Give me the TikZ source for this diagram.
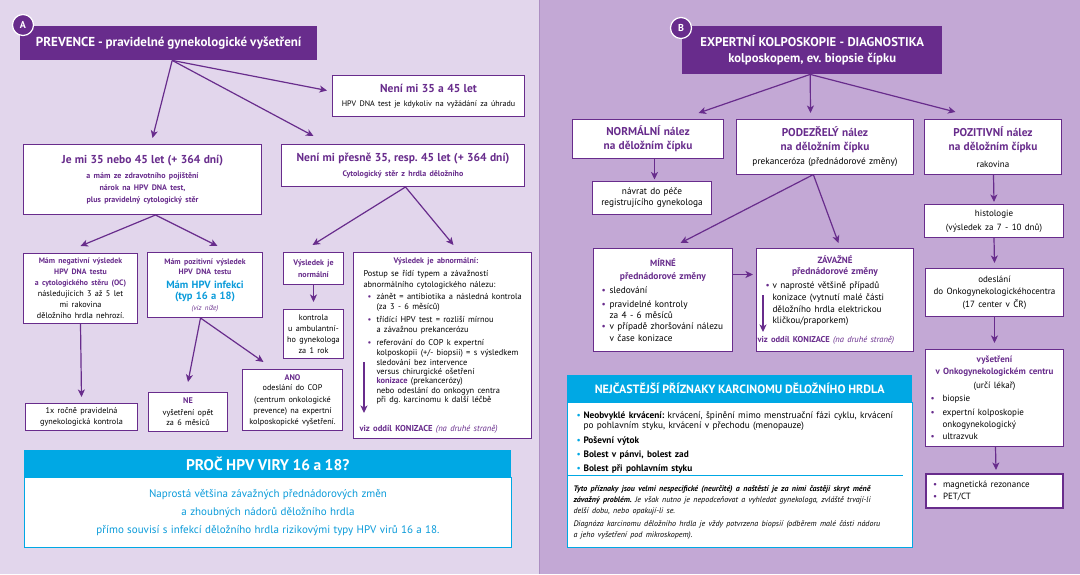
\documentclass[tikz,border=0pt]{standalone}
\usepackage{fontspec}
\setmainfont{PT Sans}[WordSpace=0.88]
\usetikzlibrary{arrows.meta}
\definecolor{pu}{RGB}{104,44,140}
\definecolor{cy}{RGB}{0,168,228}
\definecolor{cyt}{RGB}{10,155,218}
\definecolor{bgL}{RGB}{226,214,236}
\definecolor{bgR}{RGB}{195,168,213}
\definecolor{sepc}{RGB}{172,142,194}
\setlength\parindent{0pt}
\setlength\parskip{0pt}
\frenchspacing
\newcommand\Ln[3]{{\fontsize{#1}{#2}\selectfont\mbox{#3}\par}}
\newcommand\Bu[3]{\hspace*{#1pt}\makebox[#2pt][l]{\textcolor{#3}{•}}}
\newcommand\Ind[1]{\hspace*{#1pt}}
\newcommand\PB{\bfseries\color{pu}}
\begin{document}
\begin{tikzpicture}[x=1pt,y=-1pt,
  box/.style={draw=pu, line width=1pt, fill=white, anchor=north west, inner sep=0pt, align=center},
  lbox/.style={box, align=left},
  hdr/.style={fill=pu, anchor=north west, inner sep=0pt, text=white, align=center},
  cyhdr/.style={fill=cy, anchor=north west, inner sep=0pt, text=white, align=center},
  badge/.style={circle, fill=pu, draw=white, line width=1.2pt, minimum size=21pt, inner sep=0pt, text=white, font=\bfseries\fontsize{10}{12}\selectfont},
  arr/.style={draw=pu, line width=1.2pt, -{Stealth[length=7.5pt,width=7pt,inset=2pt]}}
]
\useasboundingbox (0,0) rectangle (1080,574);
\fill[bgL] (0,0) rectangle (539,574);
\fill[bgR] (539,0) rectangle (1080,574);
\draw[sepc, line width=1pt] (539,0) -- (539,574);

% ---------------- Panel A ----------------
\node[hdr, minimum width=297pt, minimum height=34pt, font=\bfseries\fontsize{13}{15}\selectfont] (hA) at (20,26) {PREVENCE - pravidelné gynekologické vyšetření};
\node[badge] (cA) at (23,25) {A};

\node[box, minimum width=192pt, minimum height=41pt, text width=184pt] (n35) at (332,75) {%
\Ln{11.5}{13}{\PB Není mi 35 a 45 let}
\Ln{8}{13.5}{HPV DNA test je kdykoliv na vyžádání za úhradu}};

\node[box, minimum width=238pt, minimum height=70pt, text width=230pt] (je) at (23,144) {%
\Ln{11.5}{13}{\PB Je mi 35 nebo 45 let (+ 364 dní)}
\Ln{8}{15}{\PB a mám ze zdravotního pojištění}
\Ln{8}{11.5}{\PB nárok na HPV DNA test,}
\Ln{8}{12}{\PB plus pravidelný cytologický stěr}};

\node[box, minimum width=243pt, minimum height=42pt, text width=235pt] (np) at (281,144) {%
\Ln{11.5}{13}{\PB Není mi přesně 35, resp. 45 let (+ 364 dní)}
\Ln{8}{15}{\PB Cytologický stěr z hrdla děložního}};

\node[box, minimum width=114pt, minimum height=70pt, text width=108pt] (neg) at (23,253) {%
\Ln{7.8}{10}{\PB Mám negativní výsledek}
\Ln{7.8}{10.5}{\PB HPV DNA testu}
\Ln{7.8}{11}{\PB a cytologického stěru (OC)}
\Ln{8.2}{11}{následujících 3 až 5 let}
\Ln{8.2}{11}{mi rakovina}
\Ln{8.2}{11.5}{děložního hrdla nehrozí.}};

\node[box, minimum width=115pt, minimum height=65pt, text width=109pt] (pos) at (147,252) {%
\Ln{7.8}{10}{\PB Mám pozitivní výsledek}
\Ln{7.8}{10}{\PB HPV DNA testu}
\Ln{10.5}{14}{\bfseries\color{cyt}Mám HPV infekci}
\Ln{10.5}{11}{\bfseries\color{cyt}(typ 16 a 18)}
\Ln{7}{11}{\itshape\color{pu}(viz níže)}};

\node[box, minimum width=112pt, minimum height=27pt, text width=106pt] (onex) at (25,403) {%
\Ln{8.2}{11}{1x ročně pravidelná}
\Ln{8.2}{11}{gynekologická kontrola}};

\node[box, minimum width=79pt, minimum height=39pt, text width=73pt] (ne) at (148,392) {%
\Ln{8.2}{10}{\PB NE}
\Ln{8.2}{12}{vyšetření opět}
\Ln{8.2}{10}{za 6 měsíců}};

\node[box, minimum width=100pt, minimum height=61pt, text width=94pt] (ano) at (242,369) {%
\Ln{8.2}{10}{\PB ANO}
\Ln{8.2}{10.5}{odeslání do COP}
\Ln{8.2}{11.5}{(centrum onkologické}
\Ln{8.2}{11}{prevence) na expertní}
\Ln{8.2}{11}{kolposkopické vyšetření.}};

\node[box, minimum width=60pt, minimum height=32pt, text width=56pt] (nrm) at (283,252) {%
\Ln{8}{10}{\PB Výsledek je}
\Ln{8}{12.5}{\PB normální}};

\node[box, minimum width=60pt, minimum height=49pt, text width=56pt] (kon) at (283,309) {%
\Ln{8.2}{11}{kontrola}
\Ln{8.2}{11}{u ambulantní-}
\Ln{8.2}{11}{ho gynekologa}
\Ln{8.2}{10.5}{za 1 rok}};

\node[lbox, minimum width=178pt, minimum height=186pt, text width=158pt] (abn) at (353,252) {%
\Ln{8}{10}{\Ind{30}\PB Výsledek je abnormální:}
\Ln{8.4}{13}{Postup se řídí typem a závažností}
\Ln{8.4}{11}{abnormálního cytologického nálezu:}
\Ln{8.4}{12}{\Bu{4}{9}{pu}zánět = antibiotika a následná kontrola}
\Ln{8.4}{10}{\Ind{13}(za 3 - 6 měsíců)}
\Ln{8.4}{13}{\Bu{4}{9}{pu}třídící HPV test = rozliší mírnou}
\Ln{8.4}{10}{\Ind{13}a závažnou prekancerózu}
\Ln{8.4}{13}{\Bu{4}{9}{pu}referování do COP k expertní}
\Ln{8.4}{10}{\Ind{13}kolposkopii (+/- biopsii) = s výsledkem}
\Ln{8.4}{10}{\Ind{13}sledování bez intervence}
\Ln{8.4}{9.3}{\Ind{13}versus chirurgické ošetření}
\Ln{8.4}{9.3}{\Ind{13}{\PB konizace} (prekancerózy)}
\Ln{8.4}{9.3}{\Ind{13}nebo odeslání do onkogyn centra}
\Ln{8.4}{9.3}{\Ind{13}při dg. karcinomu k další léčbě}
\Ln{8.6}{29}{\Ind{-4}{\PB viz oddíl KONIZACE} {\itshape\color{pu}(na druhé straně)}}};
\coordinate (abnA) at ([xshift=11pt,yshift=-110pt]abn.north west);
\coordinate (abnB) at ([xshift=11pt,yshift=-161pt]abn.north west);

\node[cyhdr, minimum width=487pt, minimum height=27pt, font=\bfseries\fontsize{15.5}{17}\selectfont] (ph) at (24,450) {PROČ HPV VIRY 16 a 18?};
\node[box, draw=cy, minimum width=487pt, minimum height=70pt, text width=470pt] (pb) at (24,477) {%
\Ln{11}{12}{\color{cyt}Naprostá většina závažných přednádorových změn}
\Ln{11}{18}{\color{cyt}a zhoubných nádorů děložního hrdla}
\Ln{11}{18}{\color{cyt}přímo souvisí s infekcí děložního hrdla rizikovými typy HPV virů 16 a 18.}};

% arrows A
\draw[arr] ([xshift=3.5pt]hA.south) -- ([xshift=10pt,yshift=6pt]je.north);
\draw[arr] ([xshift=3.5pt]hA.south) -- ([xshift=-89.5pt,yshift=8pt]np.north);
\draw[arr] ([xshift=3.5pt]hA.south) -- ([xshift=-5pt,yshift=5.5pt]n35.west);
\draw[arr] ([xshift=13pt]je.south) -- ([yshift=7pt]neg.north);
\draw[arr] ([xshift=13pt]je.south) -- ([xshift=12.5pt,yshift=6pt]pos.north);
\draw[arr] (neg.south) -- ([yshift=6pt]onex.north);
\draw[arr] ([xshift=-4.5pt]pos.south) -- ([yshift=10pt]ne.north);
\draw[arr] ([xshift=-4.5pt]pos.south) -- ([xshift=-29pt,yshift=7pt]ano.north);
\draw[arr] ([xshift=2.5pt]np.south) -- ([xshift=-1pt,yshift=7pt]nrm.north);
\draw[arr] ([xshift=2.5pt]np.south) -- ([xshift=11pt,yshift=7pt]abn.north);
\draw[arr] (nrm.south) -- ([yshift=7pt]kon.north);
\draw[arr] (abnA) -- (abnB);

% ---------------- Panel B ----------------
\node[hdr, minimum width=260pt, minimum height=48pt, text width=256pt] (hB) at (682,26) {%
\Ln{12.7}{14}{\bfseries EXPERTNÍ KOLPOSKOPIE - DIAGNOSTIKA}
\Ln{12.7}{16}{\bfseries kolposkopem, ev. biopsie čípku}};
\node[badge] (cB) at (681,28) {B};

\node[box, minimum width=151pt, minimum height=39pt, text width=145pt] (norB) at (572,119) {%
\Ln{11.3}{12}{\PB NORMÁLNÍ nález}
\Ln{11.3}{14}{\PB na děložním čípku}};

\node[box, minimum width=119pt, minimum height=33pt, text width=113pt] (nav) at (592,181) {%
\Ln{9.3}{10}{návrat do péče}
\Ln{9.3}{11}{registrujícího gynekologa}};

\node[box, minimum width=177pt, minimum height=55pt, text width=171pt] (pod) at (736,119) {%
\Ln{11.3}{12}{\PB PODEZŘELÝ nález}
\Ln{11.3}{14}{\PB na děložním čípku}
\Ln{9.3}{14}{prekanceróza (přednádorové změny)}};

\node[box, minimum width=137pt, minimum height=55pt, text width=131pt] (poz) at (924,119) {%
\Ln{11.3}{12}{\PB POZITIVNÍ nález}
\Ln{11.3}{14}{\PB na děložním čípku}
\Ln{9}{17}{rakovina}};

\node[box, minimum width=139pt, minimum height=33pt, text width=133pt] (hist) at (924,204) {%
\Ln{9}{10}{histologie}
\Ln{9}{14}{(výsledek za 7 - 10 dnů)}};

\node[lbox, minimum width=139pt, minimum height=103pt, text width=123pt] (mir) at (593,248) {%
\Ln{9}{10}{\makebox[123pt][c]{\PB MÍRNÉ}}
\Ln{9.5}{12.5}{\makebox[123pt][c]{\PB přednádorové změny}}
\Ln{9.3}{14}{\Bu{0}{8}{pu}sledování}
\Ln{9.3}{14}{\Bu{0}{8}{pu}pravidelné kontroly}
\Ln{9.3}{11}{\Ind{8}za 4 - 6 měsíců}
\Ln{9.3}{11.5}{\Bu{0}{8}{pu}v případě zhoršování nálezu}
\Ln{9.3}{11.5}{\Ind{8}v čase konizace}
\vspace*{12pt}};

\node[lbox, minimum width=157pt, minimum height=103pt, text width=139pt] (zav) at (756,248) {%
\Ln{9}{10}{\makebox[139pt][c]{\PB ZÁVAŽNÉ}}
\Ln{9.5}{11}{\makebox[139pt][c]{\PB přednádorové změny}}
\Ln{9.2}{14}{\Bu{0}{7}{pu}v naprosté většině případů}
\Ln{9.2}{12}{\Ind{7}konizace (vytnutí malé části}
\Ln{9.2}{12}{\Ind{7}děložního hrdla elektrickou}
\Ln{9.2}{11}{\Ind{7}kličkou/praporkem)}
\Ln{8.5}{19}{\Ind{-8}{\PB viz oddíl KONIZACE} {\itshape\color{pu}(na druhé straně)}}};
\coordinate (zavA) at ([xshift=7pt,yshift=-47pt]zav.north west);
\coordinate (zavB) at ([xshift=7pt,yshift=-84pt]zav.north west);

\node[box, minimum width=138pt, minimum height=48pt, text width=132pt] (ode) at (925,268) {%
\Ln{9}{10}{odeslání}
\Ln{9}{12.5}{do Onkogynekologickéhocentra}
\Ln{9}{12.5}{(17 center v ČR)}};

\node[lbox, minimum width=138pt, minimum height=97pt, text width=128pt] (vys) at (925,349) {%
\Ln{9}{10}{\makebox[128pt][c]{\PB vyšetření}}
\Ln{9}{11.7}{\makebox[128pt][c]{\PB v Onkogynekologickém centru}}
\Ln{9}{14.3}{\makebox[128pt][c]{(určí lékař)}}
\Ln{9}{13.3}{\Bu{0}{12}{pu}biopsie}
\Ln{9}{14}{\Bu{0}{12}{pu}expertní kolposkopie}
\Ln{9}{11.7}{\Ind{12}onkogynekologický}
\Ln{9}{12.3}{\Bu{0}{12}{pu}ultrazvuk}};

\node[lbox, line width=2pt, minimum width=137pt, minimum height=34pt, text width=123pt] (mag) at (925,473) {%
\Ln{9}{10}{\Bu{0}{10}{pu}magnetická rezonance}
\Ln{9}{12.3}{\Bu{0}{10}{pu}PET/CT}};

\node[cyhdr, minimum width=345pt, minimum height=27pt, font=\bfseries\fontsize{12}{14}\selectfont] (sh) at (567,375) {NEJČASTĚJŠÍ PŘÍZNAKY KARCINOMU DĚLOŽNÍHO HRDLA};
\node[lbox, draw=cy, minimum width=345pt, minimum height=145pt, text width=333pt] (sb) at (567,402) {%
\Ln{9.3}{10}{\Bu{3}{7}{cy}\textbf{Neobvyklé krvácení:} krvácení, špinění mimo menstruační fázi cyklu, krvácení}
\Ln{9.3}{10.7}{\Ind{10}po pohlavním styku, krvácení v přechodu (menopauze)}
\Ln{9.3}{15}{\Bu{3}{7}{cy}\textbf{Poševní výtok}}
\Ln{9.3}{14}{\Bu{3}{7}{cy}\textbf{Bolest v pánvi, bolest zad}}
\Ln{9.3}{13.3}{\Bu{3}{7}{cy}\textbf{Bolest při pohlavním styku}}
\Ln{8}{20}{\itshape\bfseries Tyto příznaky jsou velmi nespecifické (neurčité) a naštěstí je za nimi častěji skryt méně}
\Ln{8}{11.4}{\itshape\textbf{závažný problém.} Je však nutno je nepodceňovat a vyhledat gynekologa, zvláště trvají-li}
\Ln{8}{10.6}{\itshape delší dobu, nebo opakují-li se.}
\Ln{8}{13.4}{\itshape Diagnóza karcinomu děložního hrdla je vždy potvrzena biopsií (odběrem malé části nádoru}
\Ln{8}{10.6}{\itshape a jeho vyšetření pod mikroskopem).}
\vspace*{6pt}};
\draw[cy, line width=0.8pt] ([yshift=-73.3pt]sb.north west) -- ++(336,0);

% arrows B
\draw[arr] ([xshift=-2pt]hB.south) -- ([xshift=50.5pt,yshift=6pt]norB.north);
\draw[arr] ([xshift=-2pt]hB.south) -- ([xshift=-14.5pt,yshift=6pt]pod.north);
\draw[arr] ([xshift=-2pt]hB.south) -- ([xshift=-37.5pt,yshift=7pt]poz.north);
\draw[arr] ([xshift=6.5pt]norB.south) -- ([xshift=2.5pt,yshift=1.5pt]nav.north);
\draw[arr] ([xshift=0.5pt]poz.south) -- ([yshift=2pt]hist.north);
\draw[arr] ([xshift=-12.5pt]pod.south) -- ([xshift=17.5pt,yshift=5pt]mir.north);
\draw[arr] ([xshift=-11.5pt]pod.south) -- ([xshift=3.5pt,yshift=5pt]zav.north);
\draw[arr] ([yshift=25.5pt]mir.east) -- ([xshift=-3pt,yshift=25.5pt]zav.west);
\draw[arr] (zavA) -- (zavB);
\draw[arr] (hist.south) -- ([yshift=5pt]ode.north);
\draw[arr] (ode.south) -- ([yshift=6pt]vys.north);
\draw[arr] ([xshift=1pt]vys.south) -- ([xshift=1.5pt,yshift=3pt]mag.north);
\end{tikzpicture}
\end{document}
